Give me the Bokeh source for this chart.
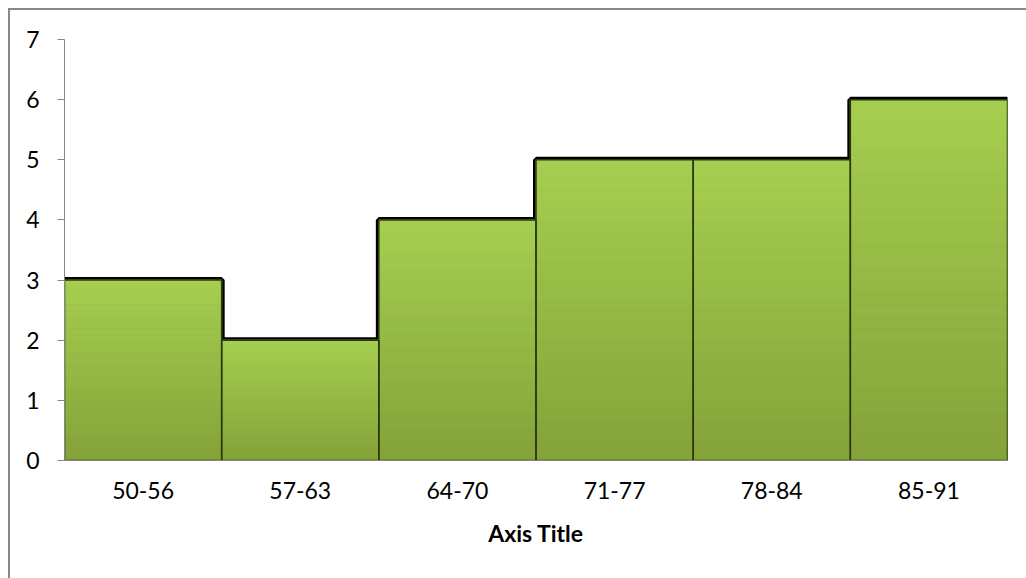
from bokeh.plotting import figure
from bokeh.models import FactorRange, Range1d, FixedTicker
from bokeh.embed import file_html
from bokeh.resources import INLINE

# ---- data ----
categories = ["50-56", "57-63", "64-70", "71-77", "78-84", "85-91"]
counts = [3, 2, 4, 5, 5, 6]
y_ticks = [0, 1, 2, 3, 4, 5, 6, 7]
x_title = "Axis Title"

FONT = "Lato"

p = figure(width=1026, height=578,
           x_range=FactorRange(*categories, range_padding=0),
           y_range=Range1d(0, 7),
           output_backend="svg", toolbar_location=None,
           min_border_left=64, min_border_right=19,
           min_border_top=39, min_border_bottom=118)
# chart-area border (only its top and left edges fall inside the window)
p.styles = {
    "background": ("linear-gradient(#878787,#878787) 8px 8px / 2px 100% no-repeat, "
                   "linear-gradient(#878787,#878787) 8px 8px / 100% 2px no-repeat, white"),
}
p.xgrid.visible = False
p.ygrid.visible = False
p.outline_line_color = None
p.background_fill_color = "white"
p.border_fill_color = None

# shadow rings
p.vbar(x=categories, top=counts, bottom=0, width=1,
       fill_color="white", line_color="white", line_width=9)
p.vbar(x=categories, top=counts, bottom=0, width=1,
       fill_color="black", line_color="black", line_width=6)

# gradient bands
def mix(c1, c2, t):
    a = [int(c1[i:i + 2], 16) for i in (1, 3, 5)]
    b = [int(c2[i:i + 2], 16) for i in (1, 3, 5)]
    return "#%02x%02x%02x" % tuple(round(a[j] + (b[j] - a[j]) * t) for j in range(3))

BOTTOM_C, TOP_C = "#83a239", "#a6cf50"
N = 30
bx, bb, bt, bc = [], [], [], []
for cat, c in zip(categories, counts):
    for k in range(N):
        bx.append(cat)
        bb.append(c * k / N)
        bt.append(c * (k + 1) / N)
        bc.append(mix(BOTTOM_C, TOP_C, (k + 0.5) / N))
p.vbar(x=bx, top=bt, bottom=bb, width=1, fill_color=bc, line_color=bc, line_width=1)

# bar edges
p.vbar(x=categories, top=counts, bottom=0, width=1,
       fill_color=None, line_color="#2b3810", line_width=1.5)

# axes
ya = p.yaxis[0]
ya.ticker = FixedTicker(ticks=y_ticks)
ya.axis_line_color = "#868686"
ya.major_tick_line_color = "#868686"
ya.major_tick_out = 7
ya.major_tick_in = 0
ya.minor_tick_line_color = None
ya.major_label_standoff = 18
ya.major_label_text_font = FONT
ya.major_label_text_font_size = "23px"
ya.major_label_text_color = "#000000"

xa = p.xaxis[0]
xa.axis_line_color = "#868686"
xa.major_tick_line_color = None
xa.major_tick_out = 0
xa.major_tick_in = 0
xa.minor_tick_line_color = None
xa.major_label_standoff = 21
xa.major_label_text_font = FONT
xa.major_label_text_font_size = "23px"
xa.major_label_text_color = "#000000"
xa.axis_label = x_title
xa.axis_label_text_font = FONT
xa.axis_label_text_font_size = "23px"
xa.axis_label_text_font_style = "bold"
xa.axis_label_text_color = "#000000"
xa.axis_label_standoff = 17

open("out.html", "w").write(file_html(p, INLINE))
